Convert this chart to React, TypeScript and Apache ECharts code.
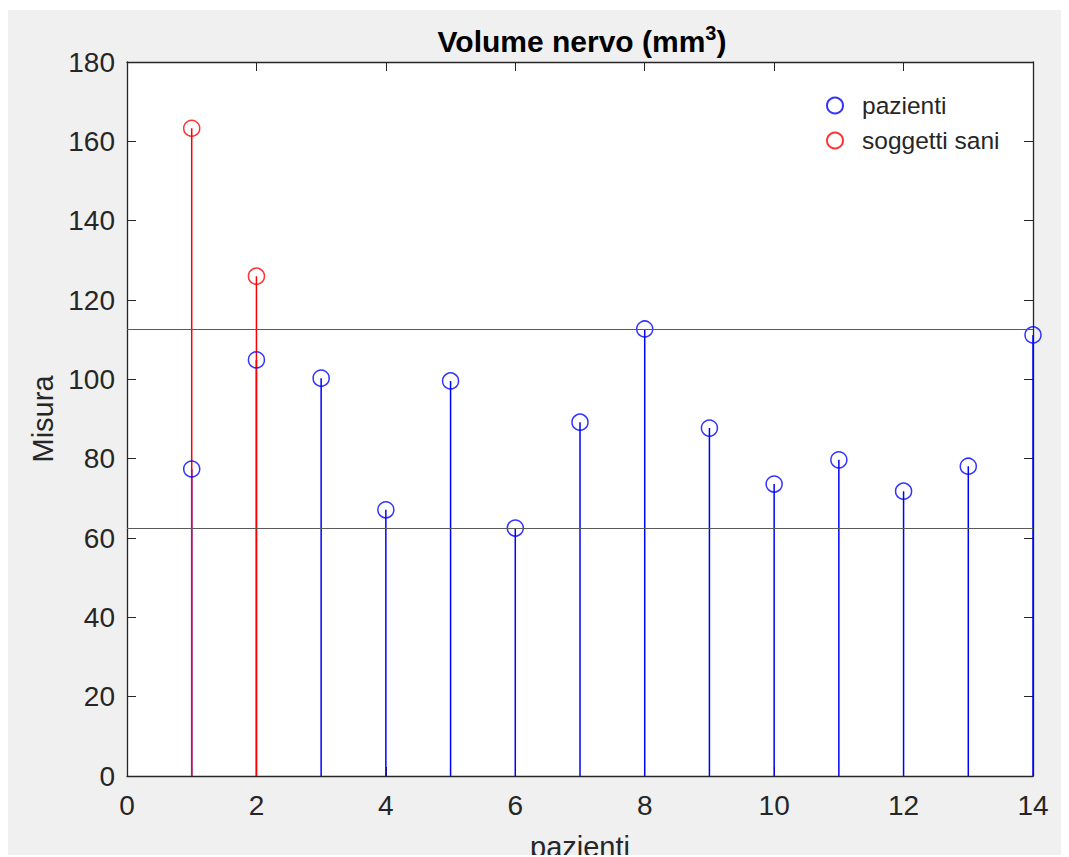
import React, { useEffect, useRef } from "react";
import * as echarts from "echarts";

const patientX = [1, 2, 3, 4, 5, 6, 7, 8, 9, 10, 11, 12, 13, 14];
const patientY = [77.4, 104.9, 100.3, 67.1, 99.6, 62.5, 89.2, 112.7, 87.7, 73.6, 79.7, 71.8, 78.1, 111.2];
const healthyX = [1, 2];
const healthyY = [163.3, 126.0];
const xTicks = [0, 2, 4, 6, 8, 10, 12, 14];
const yTicks = [0, 20, 40, 60, 80, 100, 120, 140, 160, 180];

const BLUE = "#0000ff";
const RED = "#ff0000";
const AX = "#262626";
const FONT = "'Liberation Sans', Arial, Helvetica, sans-serif";

function stemSeries(name: string, xs: number[], ys: number[], color: string, z: number) {
  return {
    type: "custom",
    name,
    z,
    silent: true,
    data: xs.map((x, i) => [x, ys[i]]),
    encode: { x: 0, y: 1 },
    renderItem: (params: any, api: any) => {
      const p1 = api.coord([api.value(0), 0]);
      const p2 = api.coord([api.value(0), api.value(1)]);
      return {
        type: "line",
        shape: { x1: p1[0], y1: p1[1], x2: p2[0], y2: p2[1] },
        style: { stroke: color, lineWidth: 1.5 },
      };
    },
  };
}

export default function App() {
  const ref = useRef<HTMLDivElement>(null);
  useEffect(() => {
    if (!ref.current) return;
    const chart = echarts.init(ref.current, null, { renderer: "svg" });
    const pMax = Math.max(...patientY);
    const pMin = Math.min(...patientY);
    const axisLabel = { color: AX, fontSize: 28, fontFamily: FONT };
    chart.setOption({
      animation: false,
      backgroundColor: "#f0f0f0",
      textStyle: { fontFamily: FONT },
      title: {
        text: "{b|Volume nervo (mm}{s|3}{b|)}",
        left: 569,
        top: 8,
        textAlign: "center",
        textStyle: {
          rich: {
            b: { fontSize: 30, fontWeight: "bold", color: "#000", fontFamily: FONT, lineHeight: 36 },
            s: { fontSize: 20, fontWeight: "bold", color: "#000", fontFamily: FONT, verticalAlign: "top", lineHeight: 36, padding: [0, 0, 15, 0] },
          },
        },
      },
      legend: {
        left: 813,
        top: 78,
        orient: "vertical",
        itemWidth: 16,
        itemHeight: 16,
        itemGap: 10,
        data: ["pazienti", "soggetti sani"],
        textStyle: { fontSize: 24.5, color: AX, fontFamily: FONT, padding: [0, 0, 0, 14] },
      },
      grid: {
        left: 119,
        top: 52,
        right: 36,
        bottom: 81,
        containLabel: false,
        outerBoundsMode: "none",
        show: true,
        backgroundColor: "#fff",
        borderWidth: 0,
      },
      xAxis: [
        {
          type: "value",
          min: 0,
          max: 14,
          interval: 2,
          position: "bottom",
          name: "pazienti",
          nameLocation: "middle",
          nameGap: 56,
          nameTextStyle: { fontSize: 29, color: AX, fontFamily: FONT },
          axisLine: { show: true, onZero: false, lineStyle: { color: AX, width: 1.3 } },
          axisTick: { show: true, inside: true, length: 9, lineStyle: { color: AX } },
          axisLabel: { ...axisLabel, margin: 15, formatter: (v: number) => (xTicks.includes(v) ? String(v) : "") },
          splitLine: { show: false },
        },
        {
          type: "value",
          min: 0,
          max: 14,
          interval: 2,
          position: "top",
          axisLine: { show: true, onZero: false, lineStyle: { color: AX, width: 1.3 } },
          axisTick: { show: true, inside: true, length: 9, lineStyle: { color: AX } },
          axisLabel: { show: false },
          splitLine: { show: false },
        },
      ],
      yAxis: [
        {
          type: "value",
          min: 0,
          max: 180,
          interval: 20,
          position: "left",
          name: "Misura",
          nameLocation: "middle",
          nameGap: 70,
          nameRotate: 90,
          nameTextStyle: { fontSize: 29, color: AX, fontFamily: FONT },
          axisLine: { show: true, onZero: false, lineStyle: { color: AX, width: 1.3 } },
          axisTick: { show: true, inside: true, length: 9, lineStyle: { color: AX } },
          axisLabel: { ...axisLabel, margin: 12, formatter: (v: number) => (yTicks.includes(v) ? String(v) : "") },
          splitLine: { show: false },
        },
        {
          type: "value",
          min: 0,
          max: 180,
          interval: 20,
          position: "right",
          axisLine: { show: true, onZero: false, lineStyle: { color: AX, width: 1.3 } },
          axisTick: { show: true, inside: true, length: 9, lineStyle: { color: AX } },
          axisLabel: { show: false },
          splitLine: { show: false },
        },
      ],
      series: [
        {
          type: "line",
          name: "limits",
          data: [],
          silent: true,
          markLine: {
            silent: true,
            symbol: "none",
            label: { show: false },
            lineStyle: { color: "#5a5a5a", width: 1.2, type: "solid" },
            data: [{ yAxis: pMax }, { yAxis: pMin }],
          },
          z: 1,
        },
        stemSeries("stemP", patientX, patientY, BLUE, 2),
        stemSeries("stemH", healthyX, healthyY, RED, 3),
        {
          type: "scatter",
          name: "pazienti",
          symbol: "circle",
          symbolSize: 16,
          data: patientX.map((x, i) => [x, patientY[i]]),
          itemStyle: { color: "rgba(0,0,0,0)", borderColor: BLUE, borderWidth: 1.5 },
          z: 4,
        },
        {
          type: "scatter",
          name: "soggetti sani",
          symbol: "circle",
          symbolSize: 16,
          data: healthyX.map((x, i) => [x, healthyY[i]]),
          itemStyle: { color: "rgba(0,0,0,0)", borderColor: RED, borderWidth: 1.5 },
          z: 4,
        },
      ],
    });
    return () => chart.dispose();
  }, []);
  return (
    <div style={{ position: "relative", top: 2, width: 1061, height: 847 }}>
      <div ref={ref} style={{ width: 1061, height: 847 }} />
    </div>
  );
}
